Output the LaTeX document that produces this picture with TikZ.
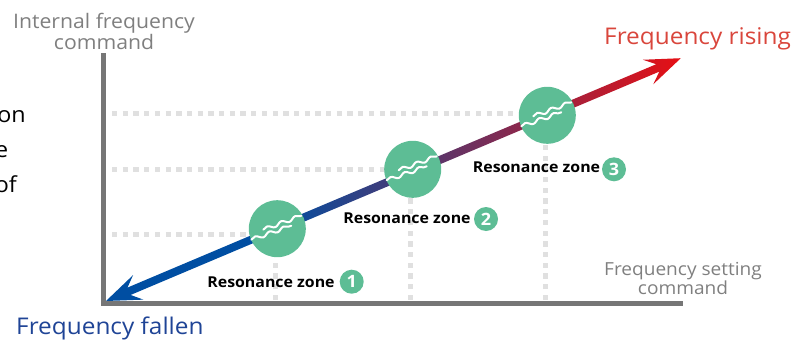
\documentclass[tikz,border=0pt]{standalone}
\usepackage{fontspec}
\setmainfont[FakeStretch=1.06]{Open Sans}
\usetikzlibrary{decorations.pathmorphing}
\definecolor{axisgray}{HTML}{767676}
\definecolor{guidegray}{HTML}{E0E0E0}
\definecolor{zonegreen}{HTML}{5DBD95}
\definecolor{fallblue}{HTML}{004EA2}
\definecolor{midpurple}{HTML}{8B3F66}
\definecolor{riseRed}{HTML}{E60F14}
\definecolor{labgray}{HTML}{7F7F7F}
\definecolor{labred}{HTML}{D9463C}
\definecolor{labblue}{HTML}{1F4496}
\tikzset{
  axisline/.style={draw=axisgray,line width=5pt},
  guide/.style={draw=guidegray,line width=5pt,dash pattern=on 5.3pt off 5.4pt},
  zone/.style={circle,minimum size=57pt,inner sep=0pt},
  badge/.style={circle,fill=zonegreen,minimum size=24pt,inner sep=0pt,text=white,font=\fontsize{17}{17}\selectfont\bfseries},
  zonelab/.style={inner sep=0pt,anchor=base,font=\fontsize{15}{15}\selectfont\bfseries},
  wave/.style={draw=white,line width=2pt,line cap=round,line join=round,decorate,decoration={snake,segment length=15pt,amplitude=1.8pt}},
  axlab/.style={inner sep=0pt,align=center,text=labgray},
}
\begin{document}
\begin{tikzpicture}[x=1pt,y=-1pt]
\useasboundingbox (0,0) rectangle (808,340);
% cut-off text at the left
\node[inner sep=0pt,anchor=base east,font=\fontsize{22}{22}\selectfont] (t1) at (26,122) {on};
\node[inner sep=0pt,anchor=base east,font=\fontsize{22}{22}\selectfont] (t2) at (8.5,157) {e};
\node[inner sep=0pt,anchor=base east,font=\fontsize{22}{22}\selectfont] (t3) at (17,192) {of};
% zones
\coordinate (h1) at (112,234.4);
\coordinate (h2) at (112,169.6);
\coordinate (h3) at (112,113.4);
\coordinate (v1) at (275,300);
\coordinate (v2) at (410,300);
\coordinate (v3) at (545,300);
\node[zone] (c1) at (277.3,228.7) {};
\node[zone] (c2) at (412.7,169.3) {};
\node[zone] (c3) at (547.3,115.3) {};
% guides
\draw[guide] (h1) -- (c1.center |- h1);
\draw[guide] (h2) -- (c2.center |- h2);
\draw[guide] (h3) -- (c3.center |- h3);
\draw[guide] (v1) -- (v1 |- c1.center);
\draw[guide] (v2) -- (v2 |- c2.center);
\draw[guide] (v3) -- (v3 |- c3.center);
% axes
\coordinate (o) at (103.5,303);
\coordinate (ytop) at (103.5,53);
\coordinate (xend) at (683,303);
\draw[axisline] (ytop) -- (o |- 0,305.5);
\draw[axisline] (101,303) -- (xend);
% arrow with gradient
\begin{scope}[shift={(106,301)},rotate=22.9]
\fill[fallblue] (0,0) -- (35,-13.3) -- (25,-4) -- (190,-4) -- (190,4) -- (25,4) -- (35,13.3) -- cycle;
\shade[left color=fallblue,middle color=midpurple,right color=riseRed]
  (185,-4) -- (599,-4) -- (588.5,-13.3) -- (624,0) -- (588.5,13.3) -- (599,4) -- (185,4) -- cycle;
\end{scope}
% zone discs
\foreach \c in {c1,c2,c3}{
  \fill[zonegreen] (\c.center) circle (28.5);
  \draw[wave] ([shift={(-26,11)}]\c.center) -- ([shift={(14,-3)}]\c.center);
  \draw[wave] ([shift={(-14,1)}]\c.center) -- ([shift={(24,-13)}]\c.center);
}
% zone labels
\node[zonelab] (l1) at (271,287) {Resonance zone};
\node[zonelab] (l2) at (407,223.5) {Resonance zone};
\node[zonelab] (l3) at (536.5,172.5) {Resonance zone};
\node[badge] (b1) at (351.7,281.7) {1};
\node[badge] (b2) at (486,219) {2};
\node[badge] (b3) at (614,169.3) {3};
% axis labels
\node[axlab,font=\fontsize{20}{21}\selectfont] (ylab) at (104,31) {Internal frequency\\command};
\node[axlab,font=\fontsize{18}{19}\selectfont] (xlab) at (683,278) {Frequency setting\\command};
\node[inner sep=0pt,anchor=base west,text=labred,font=\fontsize{23}{23}\selectfont] (rise) at (604,44) {Frequency rising};
\node[inner sep=0pt,anchor=base west,text=labblue,font=\fontsize{23}{23}\selectfont] (fall) at (16,334) {Frequency fallen};
\end{tikzpicture}
\end{document}
